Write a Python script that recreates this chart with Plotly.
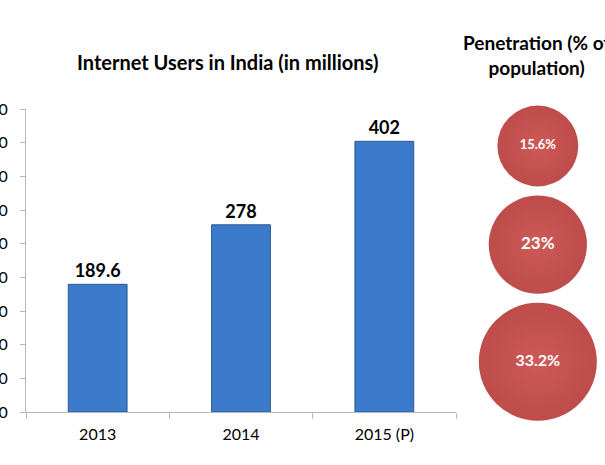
import numpy as np
import plotly.graph_objects as go

# ---- data ----
years = ["2013", "2014", "2015 (P)"]
users_millions = [189.6, 278, 402]
user_labels = ["189.6", "278", "402"]
penetration_pct = [15.6, 23, 33.2]
penetration_labels = ["15.6%", "23%", "33.2%"]
y_ticks = [0, 50, 100, 150, 200, 250, 300, 350, 400, 450]

W, H = 605, 465
ML, MR, MT, MB = 26, 0, 109, 53
plot_w = W - ML - MR
plot_h = H - MT - MB

# bubble diameters proportional to area
max_d = 118
diam = [max_d * np.sqrt(v / max(penetration_pct)) for v in penetration_pct]
# stack bubbles vertically (pixel offsets from top of plot area)
gap = 9
centers = []
c = 37.0
for i, d in enumerate(diam):
    if i > 0:
        c += diam[i - 1] / 2 + gap + d / 2
    centers.append(c)

fig = go.Figure()

fig.add_trace(go.Bar(
    x=years, y=users_millions,
    width=0.41,
    marker=dict(color="#3c7acb", line=dict(color="#2b5891", width=1)),
    text=user_labels, textposition="outside",
    textfont=dict(family="Lato", size=18, color="#000000", weight="bold"),
    cliponaxis=False,
    xaxis="x", yaxis="y",
))

fig.add_trace(go.Scatter(
    x=[0] * len(penetration_pct), y=centers,
    mode="markers+text",
    marker=dict(size=diam, color="#bd4c4a",
                gradient=dict(type="radial", color="#cd5a57"),
                line=dict(width=0), opacity=1),
    text=penetration_labels, textposition="middle center",
    textfont=dict(family="Lato", size=[13, 17, 16], color="white", weight="bold"),
    cliponaxis=False,
    xaxis="x2", yaxis="y2",
))

axis_col = "#b8b8b8"
fig.update_layout(
    width=W, height=H,
    margin=dict(l=ML, r=MR, t=MT, b=MB, autoexpand=False),
    paper_bgcolor="white", plot_bgcolor="white",
    showlegend=False,
    font=dict(family="Lato", size=16, color="#000000"),
    xaxis=dict(domain=[0, 430 / plot_w], showgrid=False, showline=True,
               linecolor=axis_col, linewidth=1, ticks="outside",
               tickson="boundaries", ticklen=6, tickcolor=axis_col,
               tickfont=dict(size=16), zeroline=False, automargin=False,
               ticklabelstandoff=8),
    yaxis=dict(range=[0, 450], tickvals=y_ticks, showgrid=False,
               showline=True, linecolor=axis_col, linewidth=1,
               ticks="outside", ticklen=5, tickcolor=axis_col,
               tickfont=dict(size=16), zeroline=False, automargin=False,
               ticklabelstandoff=9),
    xaxis2=dict(domain=[0.784, 0.984], range=[-1, 1], visible=False,
                anchor="y2"),
    yaxis2=dict(domain=[0, 1], range=[plot_h, 0], visible=False,
                anchor="x2"),
    annotations=[
        dict(text="<b>Internet Users in India (in millions)</b>",
             x=(227 - ML) / plot_w, y=(H - MB - 62) / plot_h,
             xref="paper", yref="paper", xanchor="center", yanchor="middle",
             showarrow=False, font=dict(family="Lato", size=20)),
        dict(text="<b>Penetration (% of<br>population)</b>",
             x=(536 - ML) / plot_w, y=(H - MB - 55) / plot_h,
             xref="paper", yref="paper", xanchor="center", yanchor="middle",
             showarrow=False, font=dict(family="Lato", size=19)),
    ],
)

fig.write_html("out.html",
               config={"displayModeBar": False},
               post_script="document.body.style.margin='0';document.body.style.overflow='hidden';")
